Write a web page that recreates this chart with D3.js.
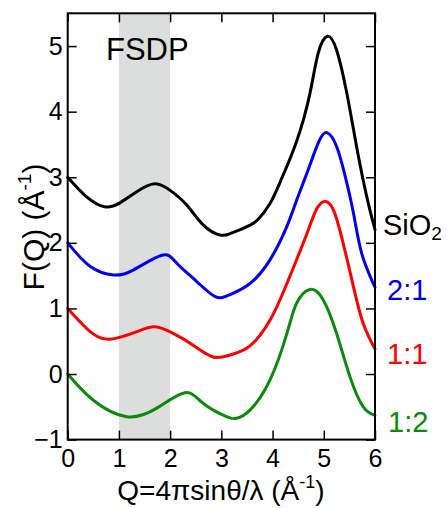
<!DOCTYPE html>
<html>
<head>
<meta charset="utf-8">
<script src="https://cdn.jsdelivr.net/npm/d3@7"></script>
<style>
  html, body { margin: 0; padding: 0; background: #fff; }
  svg { display: block; font-family: "Liberation Sans", Arial, sans-serif; }
</style>
</head>
<body>
<svg id="chart" width="447" height="508"></svg>
<script>
// ---- data ----
const xTicks = [0, 1, 2, 3, 4, 5, 6];
const yTicks = [-1, 0, 1, 2, 3, 4, 5];
const band = [1, 2];
const seriesNames = ["SiO2", "2:1", "1:1", "1:2"];
const seriesColors = ["#000000", "#0000ee", "#ff0000", "#0a8a0a"];

const qSiO2 = [0, 0.37, 0.72, 1.02, 1.35, 1.70, 2.0, 2.32, 2.65, 2.97, 3.17, 3.37, 3.56, 3.72, 3.95, 4.15, 4.47, 4.73, 4.89, 5.07, 5.25, 5.45, 5.64, 5.84, 6.0];
const fSiO2 = [3.0, 2.70, 2.55, 2.61, 2.78, 2.90, 2.80, 2.58, 2.27, 2.12, 2.14, 2.20, 2.27, 2.36, 2.60, 2.93, 3.55, 4.28, 4.89, 5.15, 4.94, 4.28, 3.47, 2.70, 2.20];

const q21 = [0, 0.44, 0.89, 1.28, 1.84, 2.13, 2.52, 2.88, 3.17, 3.56, 3.95, 4.28, 4.47, 4.67, 4.89, 5.06, 5.25, 5.42, 5.58, 5.74, 6.0];
const f21 = [2.0, 1.64, 1.51, 1.585, 1.81, 1.69, 1.41, 1.18, 1.21, 1.38, 1.74, 2.25, 2.65, 3.06, 3.52, 3.68, 3.47, 3.01, 2.45, 1.84, 1.32];

const q11 = [0, 0.44, 0.83, 1.35, 1.70, 2.06, 2.45, 2.84, 3.17, 3.56, 3.95, 4.28, 4.67, 4.85, 5.01, 5.19, 5.38, 5.58, 5.77, 6.0];
const f11 = [1.0, 0.645, 0.53, 0.645, 0.72, 0.62, 0.44, 0.26, 0.29, 0.43, 0.82, 1.38, 2.14, 2.50, 2.63, 2.50, 1.99, 1.33, 0.77, 0.38];

const q12 = [0, 0.5, 1.15, 1.74, 2.29, 2.65, 3.1, 3.30, 3.56, 3.95, 4.28, 4.47, 4.73, 4.99, 5.25, 5.51, 5.77, 6.0];
const f12 = [0.0, -0.40, -0.65, -0.52, -0.285, -0.45, -0.65, -0.675, -0.55, -0.09, 0.62, 1.08, 1.29, 1.13, 0.62, -0.04, -0.50, -0.63];

const seriesQ = [qSiO2, q21, q11, q12];
const seriesF = [fSiO2, f21, f11, f12];

// ---- layout ----
const svg = d3.select("#chart");
const L = 67.7, R = 375, T = 13.3, B = 439.6;
const x = d3.scaleLinear().domain([0, 6]).range([L, R]);
const y = d3.scaleLinear().domain([-1, 5.5]).range([B, T]);

// shaded FSDP band
svg.append("rect")
  .attr("x", x(band[0])).attr("y", T)
  .attr("width", x(band[1]) - x(band[0])).attr("height", B - T)
  .attr("fill", "#dcdddd");

svg.append("text")
  .attr("x", 106).attr("y", 60)
  .attr("font-size", 31).attr("fill", "#000")
  .text("FSDP");

// curves
const line = d3.line().x(d => x(d[0])).y(d => y(d[1])).curve(d3.curveNatural);
const plot = svg.append("g");
seriesQ.forEach((qs, i) => {
  const pts = qs.map((q, j) => [q, seriesF[i][j]]);
  plot.append("path")
    .datum(pts)
    .attr("d", line)
    .attr("fill", "none")
    .attr("stroke", seriesColors[i])
    .attr("stroke-width", 3)
    .attr("stroke-linejoin", "round")
    .attr("stroke-linecap", "round");
});

// axes (ticks inward on all sides)
const tickLen = 9;
const axB = svg.append("g").attr("transform", `translate(0,${B})`)
  .call(d3.axisBottom(x).tickValues(xTicks).tickSize(-tickLen).tickPadding(10).tickFormat(d3.format("d")));
const axT = svg.append("g").attr("transform", `translate(0,${T})`)
  .call(d3.axisTop(x).tickValues(xTicks).tickSize(-tickLen).tickFormat(""));
const axL = svg.append("g").attr("transform", `translate(${L},0)`)
  .call(d3.axisLeft(y).tickValues(yTicks).tickSize(-tickLen).tickPadding(5).tickFormat(d3.format("d")));
const axR = svg.append("g").attr("transform", `translate(${R},0)`)
  .call(d3.axisRight(y).tickValues(yTicks).tickSize(-tickLen).tickFormat(""));

[axB, axT, axL, axR].forEach(g => {
  g.select(".domain").remove();
  g.selectAll(".tick line").attr("stroke", "#000").attr("stroke-width", 1.5);
  g.selectAll(".tick text").attr("font-size", 25).attr("fill", "#000")
    .attr("font-family", "Liberation Sans, Arial, sans-serif");
});
axB.selectAll(".tick text").attr("dy", "0.71em");

// frame
svg.append("rect")
  .attr("x", L).attr("y", T).attr("width", R - L).attr("height", B - T)
  .attr("fill", "none").attr("stroke", "#000").attr("stroke-width", 2);

// axis labels
const xl = svg.append("text")
  .attr("x", 221).attr("y", 500).attr("text-anchor", "middle")
  .attr("font-size", 28).attr("fill", "#000");
xl.append("tspan").text("Q=4πsinθ/λ (Å");
xl.append("tspan").attr("font-size", 18).attr("dy", -12).text("-1");
xl.append("tspan").attr("dy", 12).text(")");

const yl = svg.append("text")
  .attr("transform", "translate(44,227) rotate(-90)")
  .attr("text-anchor", "middle")
  .attr("font-size", 30).attr("fill", "#000");
yl.append("tspan").text("F(Q) (Å");
yl.append("tspan").attr("font-size", 19).attr("dy", -13).text("-1");
yl.append("tspan").attr("dy", 13).text(")");

// series labels at right
const labelPos = [[383, 235], [387, 300], [387, 364], [388, 432]];
seriesNames.forEach((name, i) => {
  const t = svg.append("text")
    .attr("x", labelPos[i][0]).attr("y", labelPos[i][1])
    .attr("font-size", 29).attr("fill", seriesColors[i]);
  if (name === "SiO2") {
    t.append("tspan").text("SiO");
    t.append("tspan").attr("font-size", 19).attr("dy", 5).text("2");
  } else {
    t.text(name);
  }
});
</script>
</body>
</html>
